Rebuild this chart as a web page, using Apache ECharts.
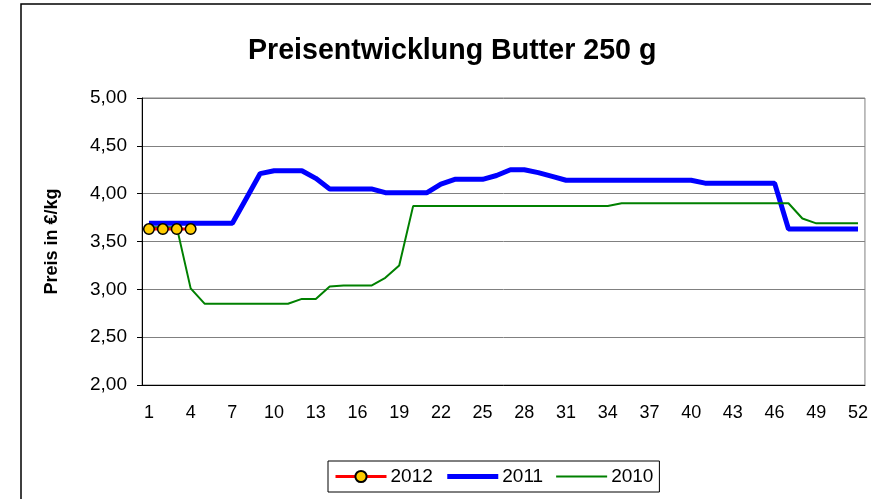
<!DOCTYPE html>
<html>
<head>
<meta charset="utf-8">
<script src="https://cdn.jsdelivr.net/npm/echarts@6/dist/echarts.min.js"></script>
<style>
  html, body { margin: 0; padding: 0; background: #fff; }
  #chart { width: 871px; height: 499px; }
</style>
</head>
<body>
<div id="chart"></div>
<script>
// Kalenderwochen 1..52
const weeks = Array.from({ length: 52 }, (_, i) => String(i + 1));

// Butterpreis je Woche (€/kg)
const price2012 = [3.63, 3.63, 3.63, 3.63];
const price2011 = [
  3.69, 3.69, 3.69, 3.69, 3.69, 3.69, 3.69, 3.95, 4.21, 4.24,
  4.24, 4.24, 4.16, 4.05, 4.05, 4.05, 4.05, 4.01, 4.01, 4.01,
  4.01, 4.10, 4.15, 4.15, 4.15, 4.19, 4.25, 4.25, 4.22, 4.18,
  4.14, 4.14, 4.14, 4.14, 4.14, 4.14, 4.14, 4.14, 4.14, 4.14,
  4.11, 4.11, 4.11, 4.11, 4.11, 4.11, 3.63, 3.63, 3.63, 3.63,
  3.63, 3.63
];
const price2010 = [
  3.65, 3.65, 3.65, 3.01, 2.85, 2.85, 2.85, 2.85, 2.85, 2.85,
  2.85, 2.90, 2.90, 3.03, 3.04, 3.04, 3.04, 3.12, 3.25, 3.87,
  3.87, 3.87, 3.87, 3.87, 3.87, 3.87, 3.87, 3.87, 3.87, 3.87,
  3.87, 3.87, 3.87, 3.87, 3.90, 3.90, 3.90, 3.90, 3.90, 3.90,
  3.90, 3.90, 3.90, 3.90, 3.90, 3.90, 3.90, 3.74, 3.69, 3.69,
  3.69, 3.69
];

const chart = echarts.init(document.getElementById('chart'), null, { renderer: 'canvas' });
const font = 'Arial, "Liberation Sans", sans-serif';
const noMarker = { color: 'rgba(0,0,0,0)', borderColor: 'rgba(0,0,0,0)', borderWidth: 0 };

chart.setOption({
  animation: false,
  backgroundColor: '#ffffff',
  textStyle: { fontFamily: font, color: '#000' },
  graphic: [{
    type: 'rect',
    shape: { x: 21, y: 4, width: 900, height: 600 },
    style: { fill: 'none', stroke: '#000', lineWidth: 1.5 },
    silent: true
  }],
  title: {
    text: 'Preisentwicklung Butter 250 g',
    left: 243,
    top: 32,
    textStyle: { fontFamily: font, fontSize: 28.6, fontWeight: 'bold', color: '#000' }
  },
  legend: {
    bottom: 7,
    left: 328,
    data: [
      { name: '2012', lineStyle: { width: 3 } },
      { name: '2011', lineStyle: { width: 5 }, itemStyle: noMarker },
      { name: '2010', lineStyle: { width: 2 }, itemStyle: noMarker }
    ],
    itemWidth: 51,
    itemHeight: 14,
    itemGap: 12,
    padding: [6, 6, 6, 6],
    borderColor: '#000',
    borderWidth: 1,
    textStyle: { fontFamily: font, fontSize: 19, color: '#000', padding: [0, 0, 0, -1] }
  },
  grid: { left: 142, right: 5, top: 98, bottom: 114, show: true, borderColor: '#808080', borderWidth: 1 },
  xAxis: {
    type: 'category',
    data: weeks,
    boundaryGap: true,
    axisLine: { lineStyle: { color: '#000', width: 1 } },
    axisTick: { interval: 0, length: 5, lineStyle: { color: '#000' } },
    axisLabel: { interval: 2, margin: 19, fontSize: 18, color: '#000', fontFamily: font },
    splitLine: { show: false }
  },
  yAxis: {
    type: 'value',
    min: 2,
    max: 5,
    interval: 0.5,
    name: 'Preis in €/kg',
    nameLocation: 'middle',
    nameGap: 81,
    nameTextStyle: { fontFamily: font, fontSize: 18, fontWeight: 'bold', color: '#000' },
    axisLine: { show: true, lineStyle: { color: '#000', width: 1 } },
    axisTick: { show: true, length: 5, lineStyle: { color: '#000' } },
    axisLabel: {
      margin: 15, fontSize: 19, color: '#000', fontFamily: font,
      formatter: v => v.toFixed(2).replace('.', ',')
    },
    splitLine: { lineStyle: { color: '#808080', width: 1 } }
  },
  series: [
    {
      name: '2012', type: 'line', data: price2012, z: 5,
      symbol: 'circle', symbolSize: 10.5, showSymbol: true, showAllSymbol: true,
      lineStyle: { color: '#ff0000', width: 3 },
      itemStyle: { color: '#ffcc00', borderColor: '#000', borderWidth: 1.5 },
      color: '#ff0000'
    },
    {
      name: '2011', type: 'line', data: price2011, z: 2,
      symbol: 'none',
      lineStyle: { color: '#0000ff', width: 5 },
      itemStyle: { color: '#0000ff' }
    },
    {
      name: '2010', type: 'line', data: price2010, z: 3,
      symbol: 'none',
      lineStyle: { color: '#008000', width: 2 },
      itemStyle: { color: '#008000' }
    }
  ]
});
</script>
</body>
</html>
